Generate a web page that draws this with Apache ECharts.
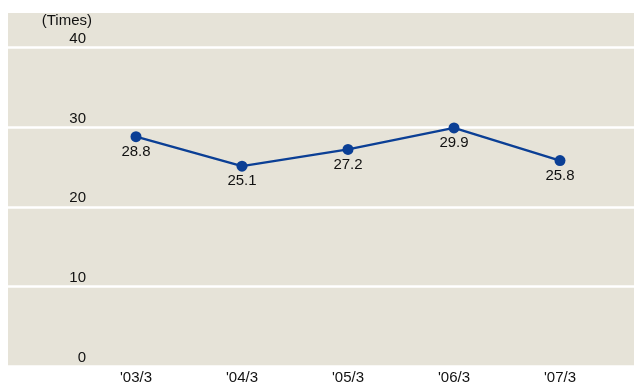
<!DOCTYPE html>
<html><head><meta charset="utf-8">
<script src="https://cdn.jsdelivr.net/npm/echarts@6/dist/echarts.min.js"></script>
<style>html,body{margin:0;padding:0;background:#fff}#c{width:634px;height:385px}</style>
</head><body><div id="c"></div>
<script>
const categories = ["'03/3", "'04/3", "'05/3", "'06/3", "'07/3"];
const values = [28.8, 25.1, 27.2, 29.9, 25.8];
const yTicks = [0, 10, 20, 30, 40];
const yName = "(Times)";

const chart = echarts.init(document.getElementById('c'));
const font = 'Liberation Sans, Arial, Helvetica, sans-serif';
chart.setOption({
  animation: false,
  graphic: [{ type: 'rect', z: -10, shape: { x: 8, y: 13, width: 626, height: 353 }, style: { fill: '#e6e3d8' } }],
  grid: [
    { left: 8, right: 0, top: 47.5, bottom: 19 },
    { left: 83, right: 21, top: 47.5, bottom: 19 }
  ],
  xAxis: [
    { gridIndex: 0, type: 'category', data: categories, show: false },
    { gridIndex: 1, type: 'category', data: categories, boundaryGap: true,
      axisLine: { show: false }, axisTick: { show: false },
      axisLabel: { color: '#111', fontSize: 15, fontFamily: font, margin: 4 } }
  ],
  yAxis: [
    { gridIndex: 0, type: 'value', min: yTicks[0], max: yTicks[yTicks.length - 1], interval: 10,
      name: yName, nameLocation: 'end', nameGap: 19,
      nameTextStyle: { color: '#111', fontSize: 15, fontFamily: font, align: 'right', padding: [0, -84, 0, 0] },
      axisLine: { show: false }, axisTick: { show: false },
      splitLine: { show: true, lineStyle: { color: '#ffffff', width: 2.5 } },
      axisLabel: { color: '#111', fontSize: 15, fontFamily: font, align: 'right', verticalAlign: 'bottom', margin: -78, padding: [0, 0, 1, 0] } },
    { gridIndex: 1, type: 'value', min: 0, max: 40, show: false, splitLine: { show: false } }
  ],
  series: [{
    type: 'line', xAxisIndex: 1, yAxisIndex: 1, data: values,
    symbol: 'circle', symbolSize: 11,
    lineStyle: { color: '#0b3f95', width: 2.4 },
    itemStyle: { color: '#0b3f95' },
    label: { show: true, position: 'bottom', distance: 2, color: '#111', fontSize: 15, fontFamily: font }
  }]
});
</script></body></html>
